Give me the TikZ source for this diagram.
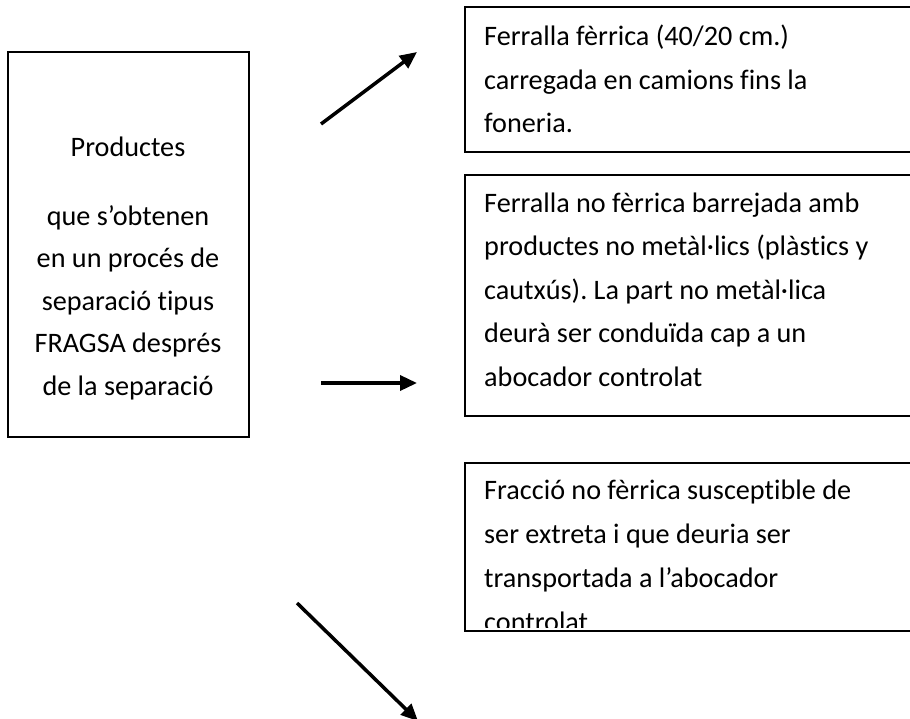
\documentclass[tikz,border=0pt]{standalone}
\usepackage{fontspec}
\setmainfont{Carlito}[Ligatures=NoCommon]
\usetikzlibrary{arrows.meta}
\frenchspacing
\begin{document}
\begin{tikzpicture}[x=1pt,y=-1pt,
  box/.style={draw=black,line width=2pt},
  ln/.style={font=\fontsize{28.2}{34}\selectfont,inner sep=0pt,anchor=base west},
  cl/.style={font=\fontsize{28.2}{34}\selectfont,inner sep=0pt,anchor=base},
  arr/.style={line width=3.5pt,-{Triangle[length=17pt,width=15pt]}}]
\useasboundingbox (0,0) rectangle (910,718);
\clip (0,0) rectangle (910,718);
\fill[white] (0,0) rectangle (910,718);
% left box
\draw[box] (8,52) rectangle (249,437);
\node[cl] (p0) at (128,156) {Productes};
\node[cl] (p1) at (128,225) {que s’obtenen};
\node[cl] (p2) at (128,267.5) {en un procés de};
\node[cl] (p3) at (128,310) {separació tipus};
\node[cl] (p4) at (128,352.5) {FRAGSA després};
\node[cl] (p5) at (128,395) {de la separació};
% box 1
\draw[box] (465,7) rectangle (920,152);
\node[ln] (a1) at (484,45) {Ferralla fèrrica (40/20 cm.)};
\node[ln] (a2) at (484,89) {carregada en camions fins la};
\node[ln] (a3) at (484,132) {foneria.};
% box 2
\draw[box] (465,175) rectangle (920,416);
\node[ln] (b1) at (484,212) {Ferralla no fèrrica barrejada amb};
\node[ln] (b2) at (484,255.5) {productes no metàl·lics (plàstics y};
\node[ln] (b3) at (484,299) {cautxús). La part no metàl·lica};
\node[ln] (b4) at (484,342.5) {deurà ser conduïda cap a un};
\node[ln] (b5) at (484,386) {abocador controlat};
% box 3
\draw[box] (465,463) rectangle (920,631);
\begin{scope}
\clip (466,464) rectangle (910,627);
\node[ln] (c1) at (484,499) {Fracció no fèrrica susceptible de};
\node[ln] (c2) at (484,543) {ser extreta i que deuria ser};
\node[ln] (c3) at (484,587) {transportada a l’abocador};
\node[ln] (c4) at (484,631) {controlat};
\end{scope}
% arrows
\coordinate (s1) at (321,124); \coordinate (e1) at (417,52);
\coordinate (s2) at (321,383); \coordinate (e2) at (417,383);
\coordinate (s3) at (297,603); \coordinate (e3) at (418,721);
\draw[arr] (s1) -- (e1);
\draw[arr] (s2) -- (e2);
\draw[arr] (s3) -- (e3);
\end{tikzpicture}
\end{document}
